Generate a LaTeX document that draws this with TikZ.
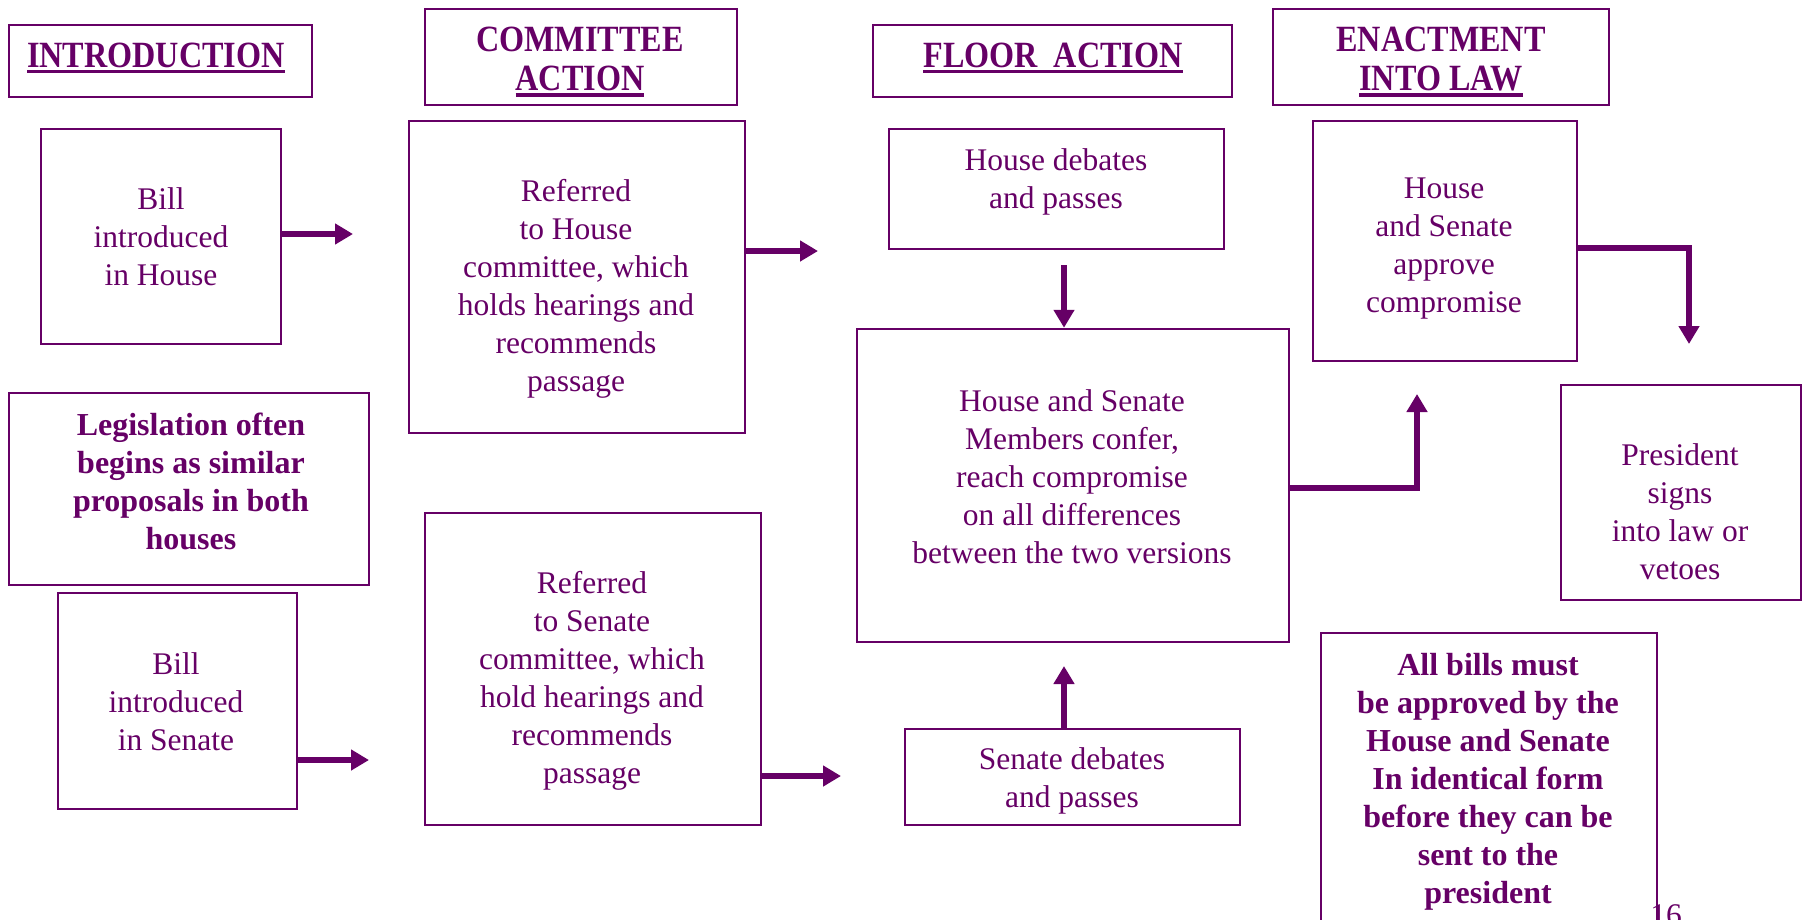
\documentclass[tikz,border=0pt]{standalone}
\usepackage{fontspec}
\setmainfont{Liberation Serif}
\newfontfamily\hdfont[FakeStretch=0.87]{Liberation Serif}
\usetikzlibrary{arrows.meta}
\definecolor{plum}{HTML}{660066}
\newcommand\hul[1]{\leavevmode\setbox0=\hbox{#1}\rlap{\usebox0}\rule[-6pt]{\wd0}{3.5pt}}
\tikzset{
  box/.style={draw=plum, line width=2.5pt, rectangle, inner sep=0pt},
  txt/.style={text=plum, inner sep=0pt, align=center, font=\fontsize{31.5}{38}\selectfont},
  btxt/.style={text=plum, inner sep=0pt, align=center, font=\fontsize{32}{38}\selectfont\bfseries},
  htxt/.style={text=plum, inner sep=0pt, align=center, font=\hdfont\fontsize{37}{39}\selectfont\bfseries},
  flow/.style={draw=plum, line width=6.5pt, -{Triangle[length=18pt,width=20pt]}},
}
\begin{document}
\begin{tikzpicture}[x=1pt,y=-1pt]
\useasboundingbox (0,0) rectangle (1806,919);
\clip (0,0) rectangle (1806,919);
% headers
\node[box, minimum width=303pt, minimum height=72pt] (hIntro) at (160.5,61) {};
\node[htxt] (hIntroT) at (156,58) {\hul{INTRODUCTION}};
\node[box, minimum width=312pt, minimum height=96pt] (hComm) at (581,57) {};
\node[htxt] (hCommT) at (580,62) {COMMITTEE\\\hul{ACTION}};
\node[box, minimum width=359pt, minimum height=72pt] (hFloor) at (1052.5,61) {};
\node[htxt] (hFloorT) at (1053,58) {\hul{FLOOR\ \ ACTION}};
\node[box, minimum width=336pt, minimum height=96pt] (hEnact) at (1441,57) {};
\node[htxt] (hEnactT) at (1441,62) {ENACTMENT\\\hul{INTO LAW}};
% boxes
\node[box, minimum width=240pt, minimum height=215pt] (billH) at (161,236.5) {};
\node[txt] (billHT) at (161,237) {Bill\\introduced\\in House};
\node[box, minimum width=336pt, minimum height=312pt] (refH) at (577,277) {};
\node[txt] (refHT) at (576,289) {Referred\\to House\\committee, which\\holds hearings and\\recommends\\passage};
\node[box, minimum width=335pt, minimum height=120pt] (houseDeb) at (1056.5,189) {};
\node[txt] (houseDebT) at (1056,182) {House debates\\and passes};
\node[box, minimum width=264pt, minimum height=240pt] (approve) at (1445,241) {};
\node[txt] (approveT) at (1444,249) {House\\and Senate\\approve\\compromise};
\node[box, minimum width=360pt, minimum height=192pt] (legis) at (189,489) {};
\node[btxt] (legisT) at (191,481) {Legislation often\\begins as similar\\proposals in both\\houses};
\node[box, minimum width=432pt, minimum height=313pt] (conf) at (1073,485.5) {};
\node[txt] (confT) at (1072,477) {House and Senate\\Members confer,\\reach compromise\\on all differences\\between the two versions};
\node[box, minimum width=240pt, minimum height=215pt] (pres) at (1681,492.5) {};
\node[txt] (presT) at (1680,512) {President\\signs\\into law or\\vetoes};
\node[box, minimum width=239pt, minimum height=216pt] (billS) at (177.5,701) {};
\node[txt] (billST) at (176,702) {Bill\\introduced\\in Senate};
\node[box, minimum width=336pt, minimum height=312pt] (refS) at (593,669) {};
\node[txt] (refST) at (592,681) {Referred\\to Senate\\committee, which\\hold hearings and\\recommends\\passage};
\node[box, minimum width=335pt, minimum height=96pt] (senDeb) at (1072.5,777) {};
\node[txt] (senDebT) at (1072,781) {Senate debates\\and passes};
\node[box, minimum width=336pt, minimum height=294pt] (allBills) at (1489,780) {};
\node[btxt] (allBillsT) at (1488,782) {All bills must\\be approved by the\\House and Senate\\In identical form\\before they can be\\sent to the\\president};
\node[text=plum, inner sep=0pt, anchor=base, font=\fontsize{31.5}{38}\selectfont] (pg) at (1666,925) {16};
% free ends
\coordinate (e1) at (353,234);
\coordinate (e2) at (818,251);
\coordinate (s3) at (1064,265);
\coordinate (e4) at (1064,666);
\coordinate (c5) at (1417,488);
\coordinate (e5) at (1417,394);
\coordinate (c6) at (1689,248);
\coordinate (e6) at (1689,344);
\coordinate (e7) at (369,760);
\coordinate (e8) at (841,776);
% connectors
\draw[flow] (billH.east |- e1) -- (e1);
\draw[flow] (refH.east |- e2) -- (e2);
\draw[flow] (s3) -- (conf.north -| s3);
\draw[flow] (senDeb.north -| e4) -- (e4);
\draw[flow] (conf.east |- c5) -- (c5) -- (e5);
\draw[flow] (approve.east |- c6) -- (c6) -- (e6);
\draw[flow] (billS.east |- e7) -- (e7);
\draw[flow] (refS.east |- e8) -- (e8);
\end{tikzpicture}
\end{document}
